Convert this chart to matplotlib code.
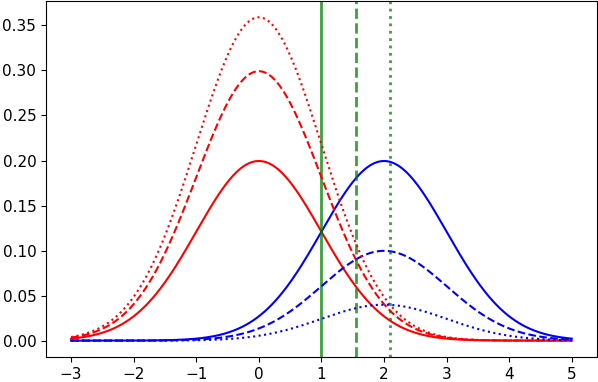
import matplotlib
matplotlib.use("Agg")
import matplotlib.pyplot as plt
import numpy as np

# two classes, unit variance, different priors
mean_red = 0.0
mean_blue = 2.0
sigma = 1.0
priors_red = [0.5, 0.75, 0.9]
priors_blue = [0.5, 0.25, 0.1]
styles = ["-", "--", ":"]
# decision boundaries
boundaries = [1.0, 1.55, 2.10]

x = np.linspace(-3, 5, 400)


def gauss(x, mu, s):
    return np.exp(-0.5 * ((x - mu) / s) ** 2) / (s * np.sqrt(2 * np.pi))


fig = plt.figure(figsize=(5.98, 3.82), dpi=100)
ax = fig.add_axes([0.077, 0.066, 0.921, 0.931])

for pr, pb, ls, b in zip(priors_red, priors_blue, styles, boundaries):
    ax.plot(x, pr * gauss(x, mean_red, sigma), color="r", linestyle=ls, lw=1.5)
    ax.plot(x, pb * gauss(x, mean_blue, sigma), color="b", linestyle=ls, lw=1.5)
    ax.axvline(b, color="g", linestyle=ls, lw=2, alpha=0.75)

ax.set_xticks(range(-3, 6))
ax.set_yticks(np.arange(0, 0.36, 0.05))
ax.tick_params(labelsize=11)

fig.savefig("out.png", dpi=100)
